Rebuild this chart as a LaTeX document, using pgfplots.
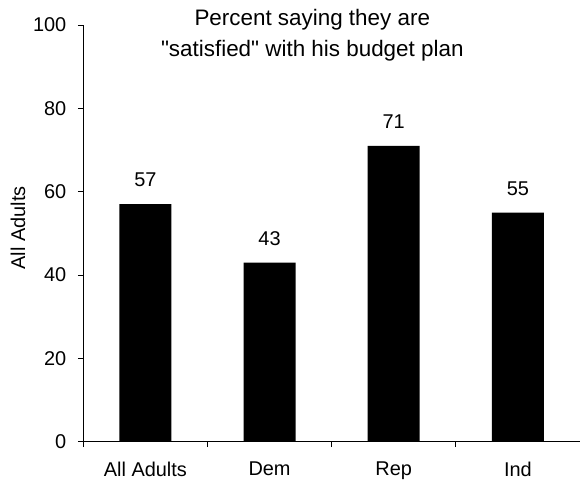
\documentclass[border=0pt]{standalone}
\usepackage{pgfplots}
\pgfplotsset{compat=1.18}
\usepackage{fontspec}
\setmainfont{Liberation Sans}

\pgfplotstableread{
idx value
0 57
1 43
2 71
3 55
}\satisfied

\begin{document}
\begin{tikzpicture}
\path[use as bounding box] (-83.3bp,-40.3bp) rectangle (496.7bp,441.7bp);
\begin{axis}[
  at={(0,0)}, anchor=south west,
  scale only axis,
  width=496.7bp, height=416.7bp,
  xmin=-0.5, xmax=3.5, ymin=0, ymax=100,
  axis x line*=bottom, axis y line*=left,
  axis line style={line width=0.8bp, black},
  xtick={-0.5,0.5,1.5,2.5,3.5},
  x tick label as interval,
  xticklabels={All Adults,Dem,Rep,Ind},
  ytick={0,20,40,60,80,100},
  xtick pos=bottom, ytick pos=left,
  tick align=outside,
  major tick length=5.5bp,
  tick style={line width=0.8bp, black},
  tick label style={font=\fontsize{20}{24}\selectfont},
  xticklabel style={yshift=-11bp},
  yticklabel style={xshift=-8bp},
  /pgf/number format/assume math mode=true,
  ybar, bar width=52bp,
  nodes near coords,
  every node near coord/.append style={anchor=base, yshift=17.5bp,
    font=\fontsize{20}{24}\selectfont, black},
  clip=false,
]
\addplot[fill=black, draw=none] table[x=idx, y=value] {\satisfied};
\node[anchor=base, font=\fontsize{22.5}{26}\selectfont] at (axis cs:1.344,99.76) {Percent saying they are};
\node[anchor=base, font=\fontsize{22.5}{26}\selectfont] at (axis cs:1.344,92.4) {\textquotedbl satisfied\textquotedbl{} with his budget plan};
\node[rotate=90, font=\fontsize{20}{24}\selectfont] at (axis cs:-1.025,51.3) {All Adults};
\end{axis}
\end{tikzpicture}
\end{document}
